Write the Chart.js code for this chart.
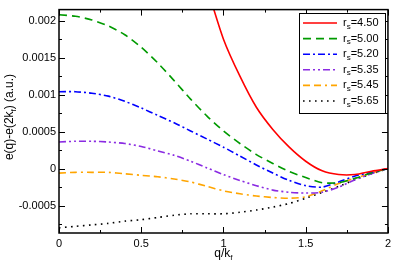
<!DOCTYPE html>
<html>
<head>
<meta charset="utf-8">
<script src="https://cdn.jsdelivr.net/npm/chart.js@4"></script>
<style>
  body { margin: 0; background: #fff; }
</style>
</head>
<body>
<canvas id="myChart" width="395" height="264"></canvas>
<script>
// q/k_f grid
var qOverKf = [0, 0.1, 0.2, 0.3, 0.4, 0.5, 0.6, 0.7, 0.8, 0.9, 1.0,
               1.1, 1.2, 1.3, 1.4, 1.5, 1.6, 1.7, 1.8, 1.9, 2.0];

var rsLabels = ['4.50', '5.00', '5.20', '5.35', '5.45', '5.65'];

// e(q)-e(2k_f) for each r_s
var rs450 = [null, null, null, null, null, null, null, null, null, 0.00245, 0.00175,
             0.00125, 0.00083, 0.00053, 0.00029, 0.00010, -0.00003, -0.00008, -0.00008, -0.000035, 0];
var rs500 = [0.00208, 0.00206, 0.00201, 0.00193, 0.00181, 0.00164, 0.00143, 0.00119, 0.00094, 0.00071, 0.00051,
             0.00034, 0.00019, 0.00007, -0.00004, -0.00012, -0.00019, -0.00019, -0.00013, -0.00006, 0];
var rs520 = [0.00104, 0.00104, 0.00102, 0.00098, 0.00091, 0.00082, 0.00072, 0.00062, 0.00051, 0.00040, 0.00029,
             0.00017, 0.00005, -0.00006, -0.00016, -0.00023, -0.00025, -0.00018, -0.00010, -0.00005, 0];
var rs535 = [0.00036, 0.00037, 0.00037, 0.00036, 0.00034, 0.00030, 0.00024, 0.00018, 0.00010, 0.00001, -0.00008,
             -0.00016, -0.00023, -0.00029, -0.00032, -0.00033, -0.00032, -0.00025, -0.00015, -0.00007, 0];
var rs545 = [-0.00006, -0.00005, -0.00005, -0.00005, -0.00007, -0.00009, -0.00011, -0.00014, -0.00018, -0.00024, -0.00030,
             -0.00034, -0.00037, -0.00039, -0.00040, -0.00038, -0.00030, -0.00020, -0.00013, -0.00006, 0];
var rs565 = [-0.00080, -0.00078, -0.00076, -0.00074, -0.00071, -0.00069, -0.00066, -0.00063, -0.00061, -0.00061, -0.00061,
             -0.00059, -0.00056, -0.00052, -0.00047, -0.00040, -0.00032, -0.00024, -0.00015, -0.00007, 0];

var xTicks = [0, 0.5, 1, 1.5, 2];
var yTicks = [-0.0005, 0, 0.0005, 0.001, 0.0015, 0.002];

var series = [rs450, rs500, rs520, rs535, rs545, rs565];
var colors = ['#ff0000', '#009a00', '#0000ff', '#8a2be2', '#ffa500', '#000000'];
var dashes = [[], [8, 5], [7, 3, 2, 3], [7, 3, 2, 3, 2, 3], [7, 4, 7, 4, 2, 4], [1.6, 4.4]];

var FONT = '"Liberation Sans", Arial, sans-serif';

// draws text with a subscript part: parts = [[text, isSub], ...]
function drawRich(ctx, parts, x, y, align) {
  var big = '12px ' + FONT, small = '8px ' + FONT;
  var w = 0;
  parts.forEach(function (p) { ctx.font = p[1] ? small : big; w += ctx.measureText(p[0]).width; });
  var cx = align === 'center' ? x - w / 2 : x;
  parts.forEach(function (p) {
    ctx.font = p[1] ? small : big;
    ctx.fillText(p[0], cx, p[1] ? y + 3 : y);
    cx += ctx.measureText(p[0]).width;
  });
}

var decor = {
  id: 'decor',
  afterDatasetsDraw: function (chart) {
    var ctx = chart.ctx, a = chart.chartArea, xs = chart.scales.x, ys = chart.scales.y;
    ctx.save();
    ctx.strokeStyle = '#000';
    ctx.lineWidth = 1;
    function seg(x1, y1, x2, y2) { ctx.beginPath(); ctx.moveTo(x1, y1); ctx.lineTo(x2, y2); ctx.stroke(); }
    for (var i = 0; i <= 8; i++) {
      var px = Math.round(xs.getPixelForValue(i * 0.25)) + 0.5;
      var len = i % 2 === 0 ? 6 : 3;
      seg(px, a.bottom, px, a.bottom - len);
      seg(px, a.top, px, a.top + len);
    }
    for (var j = -3; j <= 8; j++) {
      var py = Math.round(ys.getPixelForValue(j * 0.00025)) + 0.5;
      var l2 = j % 2 === 0 ? 6 : 3;
      seg(a.left, py, a.left + l2, py);
      seg(a.right, py, a.right - l2, py);
    }
    ctx.lineWidth = 1.5;
    ctx.strokeRect(a.left, a.top, a.right - a.left, a.bottom - a.top);

    // legend
    var bx = 299.5, by = 13.5, bw = 86, bh = 100;
    ctx.fillStyle = '#fff';
    ctx.fillRect(bx, by, bw, bh);
    ctx.lineWidth = 1;
    ctx.strokeRect(bx, by, bw, bh);
    chart.data.datasets.forEach(function (ds, k) {
      var ry = 23 + k * 15.6;
      ctx.strokeStyle = ds.borderColor;
      ctx.lineWidth = ds.borderWidth;
      ctx.setLineDash(ds.borderDash);
      seg(303, ry, 337, ry);
      ctx.setLineDash([]);
      ctx.fillStyle = '#000';
      ctx.textBaseline = 'alphabetic';
      ctx.textAlign = 'left';
      var parts = [['r', false], ['s', true], ['=' + rsLabels[k], false]];
      var big = '11px ' + FONT, small = '8px ' + FONT, cx = 343;
      parts.forEach(function (p) {
        ctx.font = p[1] ? small : big;
        ctx.fillText(p[0], cx, p[1] ? ry + 5.5 : ry + 3);
        cx += ctx.measureText(p[0]).width;
      });
    });

    // axis titles
    ctx.fillStyle = '#000';
    ctx.textAlign = 'left';
    ctx.textBaseline = 'alphabetic';
    drawRich(ctx, [['q/k', false], ['f', true]], (a.left + a.right) / 2, 257, 'center');
    ctx.save();
    ctx.translate(12.5, 117);
    ctx.rotate(-Math.PI / 2);
    drawRich(ctx, [['e(q)-e(2k', false], ['f', true], [') (a.u.)', false]], 0, 0, 'center');
    ctx.restore();
    ctx.restore();
  }
};

function renderChart() {
  var ctx = document.getElementById('myChart').getContext('2d');
  var datasets = series.map(function (vals, k) {
    return {
      label: 'rs=' + rsLabels[k],
      data: qOverKf.map(function (q, i) { return { x: q, y: vals[i] }; }),
      borderColor: colors[k],
      borderWidth: 1.6,
      borderDash: dashes[k],
      pointRadius: 0,
      tension: 0.25,
      fill: false
    };
  });

  new Chart(ctx, {
    type: 'line',
    data: { datasets: datasets },
    plugins: [decor],
    options: {
      responsive: false,
      animation: false,
      devicePixelRatio: 1,
      layout: { padding: { top: 1, right: 4, left: 0, bottom: 0 } },
      plugins: { legend: { display: false }, tooltip: { enabled: false } },
      scales: {
        x: {
          type: 'linear', min: 0, max: 2,
          afterFit: function (s) { s.height = 31; },
          afterBuildTicks: function (s) { s.ticks = xTicks.map(function (v) { return { value: v }; }); },
          grid: { display: false, drawTicks: false },
          border: { display: false },
          ticks: {
            padding: 4, color: '#000', font: { family: FONT, size: 11 },
            maxRotation: 0,
            callback: function (v) { return String(v); }
          }
        },
        y: {
          type: 'linear', min: -0.00087, max: 0.00215,
          afterFit: function (s) { s.width = 59; },
          afterBuildTicks: function (s) { s.ticks = yTicks.map(function (v) { return { value: v }; }); },
          grid: { display: false, drawTicks: false },
          border: { display: false },
          ticks: {
            padding: 3, color: '#000', font: { family: FONT, size: 11 },
            callback: function (v) { return String(parseFloat(v.toFixed(5))); }
          }
        }
      }
    }
  });
}

renderChart();
</script>
</body>
</html>
